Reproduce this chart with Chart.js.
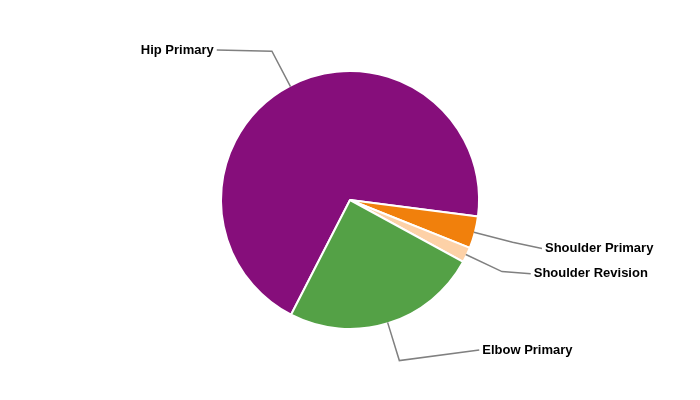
<!DOCTYPE html>
<html>
<head>
<meta charset="utf-8">
<script src="https://cdn.jsdelivr.net/npm/chart.js@4/dist/chart.umd.min.js"></script>
<style>
  html, body { margin: 0; padding: 0; background: #ffffff; }
  #wrap { width: 700px; height: 400px; position: relative; }
</style>
</head>
<body>
<div id="wrap"><canvas id="c" width="700" height="400"></canvas></div>
<script>
const categories = ["Hip Primary", "Shoulder Primary", "Shoulder Revision", "Elbow Primary"];
const shareValues = [69.5, 4.0, 1.9, 24.6];
const sliceColors = ["#860e7b", "#f1800c", "#fdd1a7", "#54a146"];

// Leader-line labels, positioned from each slice's geometry
const leaderLabels = {
  id: "leaderLabels",
  afterDatasetsDraw(chart, args, opts) {
    const ctx = chart.ctx;
    const meta = chart.getDatasetMeta(0);
    ctx.save();
    ctx.font = opts.font;
    ctx.fillStyle = opts.textColor;
    ctx.textBaseline = "middle";
    meta.data.forEach((arc, i) => {
      const p = arc.getProps(["x", "y", "startAngle", "endAngle", "outerRadius"], true);
      const mid = (p.startAngle + p.endAngle) / 2;
      const cos = Math.cos(mid), sin = Math.sin(mid);
      const r0 = p.outerRadius - 1;
      const rb = p.outerRadius + opts.bendDistance;
      const sx = p.x + r0 * cos, sy = p.y + r0 * sin;
      const bx = p.x + rb * cos, by = p.y + rb * sin;
      let ly = p.y + opts.labelRadiusY * sin + (opts.yNudge[i] || 0);
      ly = Math.max(p.y - opts.topLimit, Math.min(p.y + opts.bottomLimit, ly));
      const dy = ly - p.y;
      const dx = Math.sqrt(Math.max(opts.labelRadiusX * opts.labelRadiusX - dy * dy, 0)) + (opts.xNudge[i] || 0);
      const right = cos >= 0;
      const ex = right ? p.x + dx : p.x - dx;
      ctx.beginPath();
      ctx.strokeStyle = opts.lineColor;
      ctx.lineWidth = opts.lineWidth;
      ctx.moveTo(sx, sy);
      ctx.lineTo(bx, by);
      ctx.lineTo(ex, ly);
      ctx.stroke();
      ctx.textAlign = right ? "left" : "right";
      ctx.fillText(chart.data.labels[i], right ? ex + opts.textGap : ex - opts.textGap, ly);
    });
    ctx.restore();
  }
};

new Chart(document.getElementById("c"), {
  type: "pie",
  data: {
    labels: categories,
    datasets: [{
      data: shareValues,
      backgroundColor: sliceColors,
      borderColor: "#ffffff",
      borderWidth: 2,
      hoverOffset: 0
    }]
  },
  options: {
    responsive: false,
    animation: false,
    rotation: 207.2,
    layout: { padding: { top: 70, bottom: 70, left: 0, right: 0 } },
    plugins: {
      legend: { display: false },
      tooltip: { enabled: false },
      leaderLabels: {
        font: "bold 13px 'Liberation Sans', Arial, sans-serif",
        textColor: "#000000",
        lineColor: "#808080",
        lineWidth: 1.5,
        bendDistance: 39,
        labelRadiusY: 192,
        labelRadiusX: 198,
        topLimit: 150,
        bottomLimit: 150,
        yNudge: [0, 0, -8, 0],
        xNudge: [4, 0, -3, 0],
        textGap: 3
      }
    }
  },
  plugins: [leaderLabels]
});
</script>
</body>
</html>
